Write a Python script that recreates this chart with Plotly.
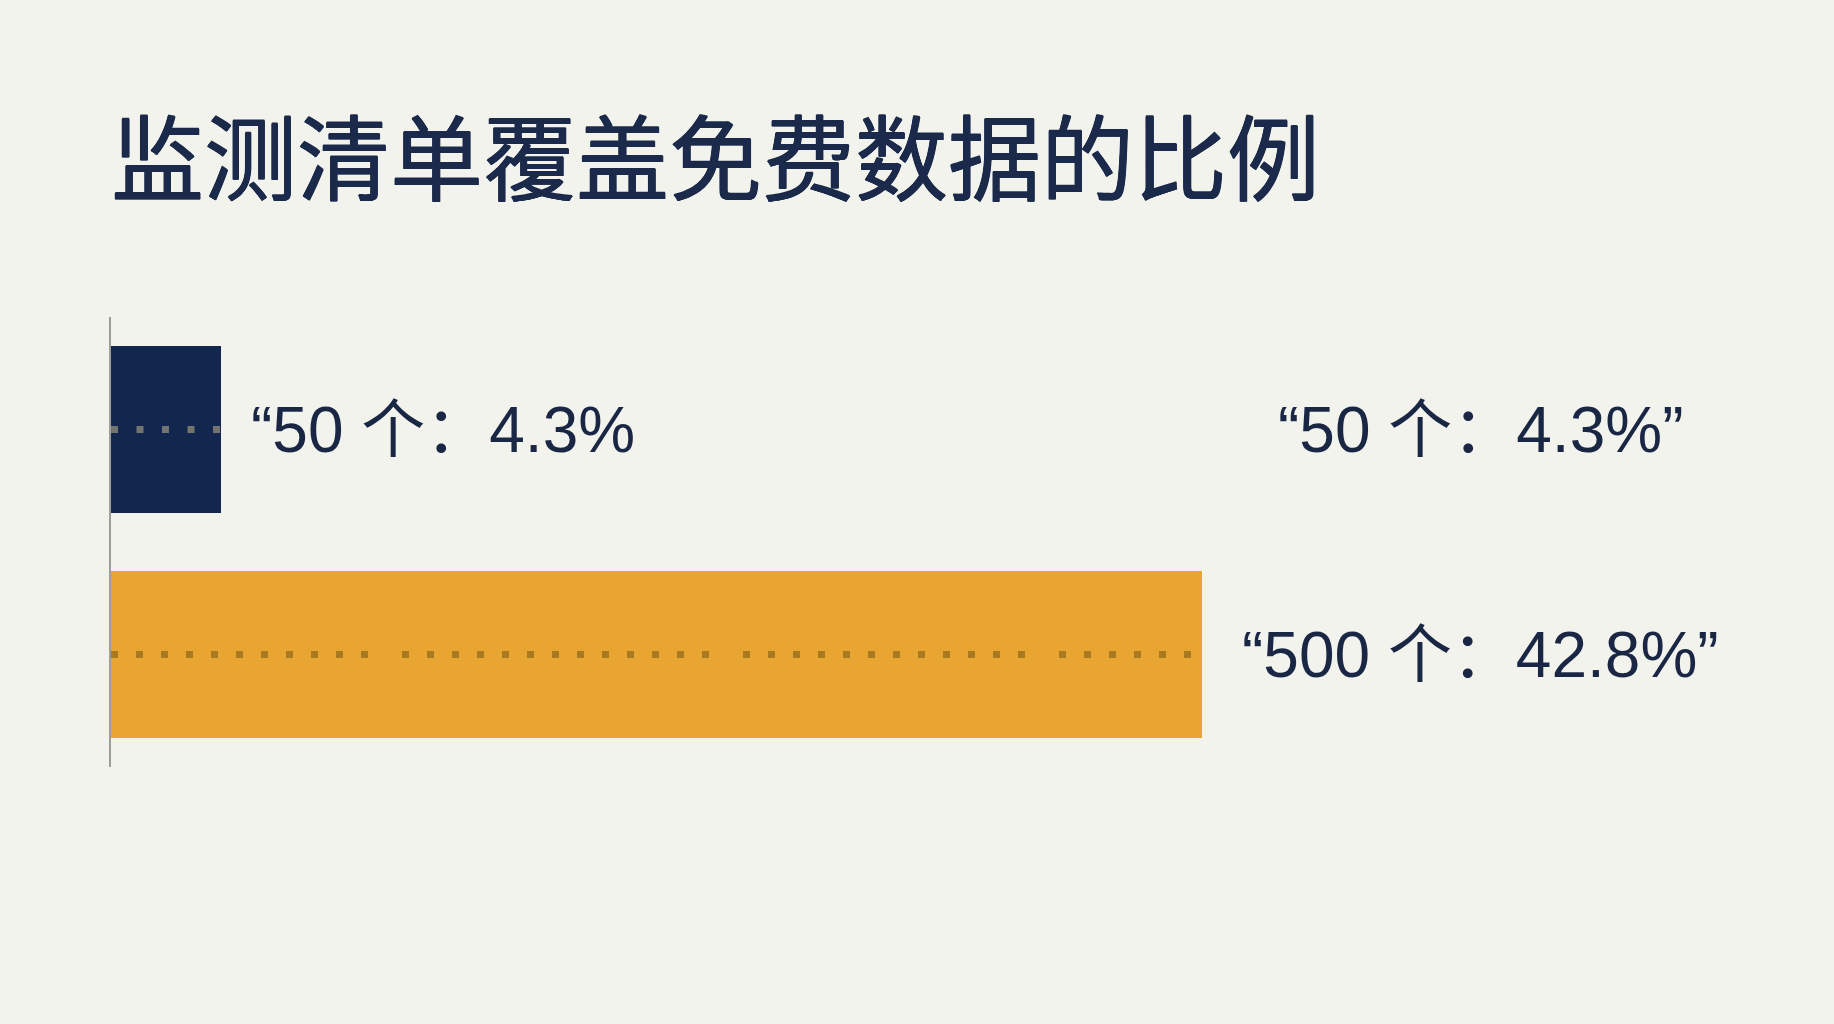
"""Horizontal bar chart: share of free data covered by watchlist size."""
import plotly.graph_objects as go

TITLE = "监测清单覆盖免费数据的比例"
COUNTS = [50, 500]
SHARES = [4.3, 42.8]
CATEGORIES = [f"{n} 个" for n in COUNTS]
BAR_LABELS = ["“50 个：4.3%", None]
SIDE_LABELS = [f"“{n} 个：{p}%”" for n, p in zip(COUNTS, SHARES)]

BG = "#f3f3ee"
NAVY = "#13264e"
ORANGE = "#e9a531"
TEXT = "#1a2744"
TITLE_COLOR = "#1b2a4a"
LATIN_CJK = "Liberation Sans, Noto Sans CJK SC, sans-serif"

fig = go.Figure()

fig.add_trace(go.Bar(
    x=SHARES, y=CATEGORIES, orientation="h",
    marker=dict(color=[NAVY, ORANGE], line=dict(width=0)),
    width=0.74, showlegend=False, hoverinfo="skip",
))

# dotted guide lines running through each bar
dot_styles = [
    dict(color="#737370", dash="7px,18.5px"),
    dict(color="#a9791f",
         dash=",".join(["7px,18px"] * 10 + ["7px,34px"] + ["7px,18px"] * 12
                       + ["7px,34px"] + ["7px,18px"] * 11 + ["7px,34px"])),
]
for cat, val, style in zip(CATEGORIES, SHARES, dot_styles):
    fig.add_trace(go.Scatter(
        x=[0, val], y=[cat, cat], mode="lines",
        line=dict(color=style["color"], width=7, dash=style["dash"]),
        showlegend=False, hoverinfo="skip",
    ))

# label right next to the short bar
for cat, val, label in zip(CATEGORIES, SHARES, BAR_LABELS):
    if label:
        fig.add_annotation(
            x=val, y=cat, xanchor="left", yanchor="middle", xshift=28,
            text=label, showarrow=False,
            font=dict(family=LATIN_CJK, size=64, color=TEXT),
        )

for cat, label in zip(CATEGORIES, SIDE_LABELS):
    fig.add_annotation(
        x=0.795, xref="paper", xanchor="center",
        y=cat, yref="y", yanchor="middle",
        text=label, showarrow=False,
        font=dict(family=LATIN_CJK, size=64, color=TEXT),
    )

# medium-ish title weight: regular face thickened with a thin shadow
thicken = ", ".join(f"{dx}px {dy}px 0 {TITLE_COLOR}"
                    for dx, dy in [(0.45, 0), (-0.45, 0), (0, 0.45), (0, -0.45)])

fig.update_layout(
    width=1834, height=1024,
    paper_bgcolor=BG, plot_bgcolor=BG,
    margin=dict(l=111, r=0, t=317, b=257),
    title=dict(
        text=TITLE, x=111 / 1834, xanchor="left", xref="container",
        y=1 - 161 / 1024, yanchor="middle", yref="container",
        font=dict(family="Noto Sans CJK SC", size=93, color=TITLE_COLOR,
                  weight=400, shadow=thicken),
    ),
    xaxis=dict(range=[0, 67.6], visible=False, fixedrange=True),
    yaxis=dict(
        categoryorder="array", categoryarray=CATEGORIES,
        range=[1.5, -0.5], showticklabels=False, ticks="",
        showgrid=False, zeroline=False, fixedrange=True,
        showline=True, linecolor="#9d9d9a", linewidth=2,
    ),
    bargap=0,
)

fig.write_html(
    "out.html",
    config={"displayModeBar": False},
    post_script="document.body.style.margin='0';"
                "document.body.style.background='#f3f3ee';",
)
